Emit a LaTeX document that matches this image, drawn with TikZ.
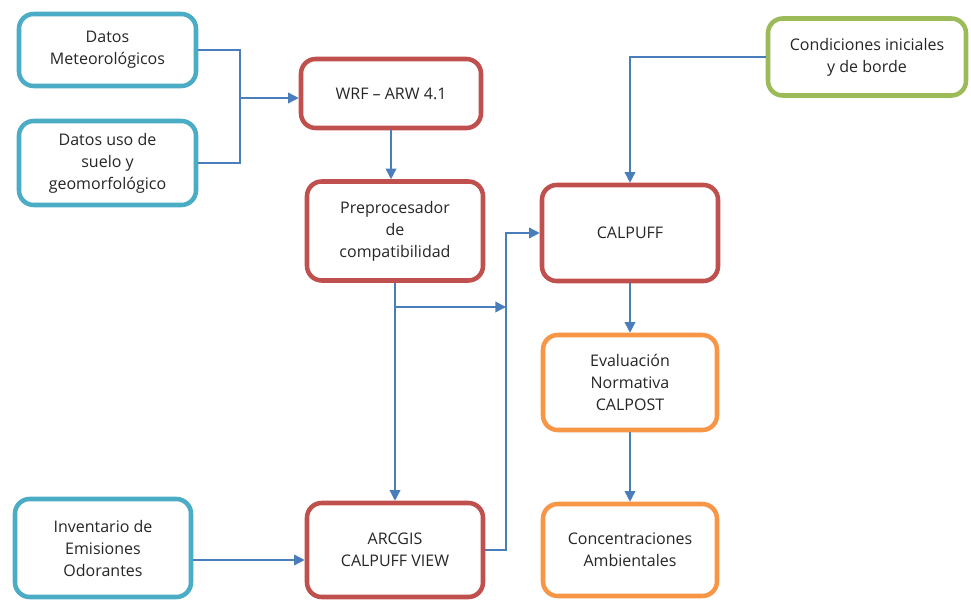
\documentclass[tikz,border=0pt]{standalone}
\usepackage{fontspec}
\setmainfont{Open Sans}
\usetikzlibrary{arrows.meta}
\definecolor{aquab}{HTML}{4BACC6}
\definecolor{redb}{HTML}{C0504D}
\definecolor{greenb}{HTML}{9BBB59}
\definecolor{orangeb}{HTML}{F79646}
\definecolor{arrowc}{HTML}{4A7EBB}
\tikzset{
  box/.style={draw, line width=3.4pt, rounded corners=11pt, fill=white, align=center,
    font=\fontsize{12}{16.5}\selectfont, text=black!85, inner sep=2pt},
  aqua/.style={box, draw=aquab},
  redbox/.style={box, draw=redb},
  greenbox/.style={box, draw=greenb},
  orangebox/.style={box, draw=orangeb},
  conn/.style={draw=arrowc, line width=1.1pt},
  arr/.style={conn, -{Triangle[length=8pt,width=8pt]}},
}
\begin{document}
\begin{tikzpicture}[x=0.75pt,y=-0.75pt]
\useasboundingbox (0,0) rectangle (971,602);
% left inputs
\node[aqua, minimum width=177*0.75pt, minimum height=72*0.75pt] (met) at (107.5,50) {Datos\\Meteorológicos};
\node[aqua, minimum width=177*0.75pt, minimum height=84*0.75pt] (suelo) at (107.5,163) {Datos uso de\\suelo y\\geomorfológico};
\node[aqua, minimum width=176*0.75pt, minimum height=98*0.75pt] (inv) at (103,548) {Inventario de\\Emisiones\\Odorantes};
% red column
\node[redbox, minimum width=180*0.75pt, minimum height=69*0.75pt] (wrf) at (391,93.5) {WRF -- ARW 4.1};
\node[redbox, minimum width=176*0.75pt, minimum height=99*0.75pt] (prep) at (395,231) {Preprocesador\\de\\compatibilidad};
\node[redbox, minimum width=176*0.75pt, minimum height=94*0.75pt] (arc) at (395,550) {ARCGIS\\CALPUFF VIEW};
% right column
\node[redbox, minimum width=176*0.75pt, minimum height=96*0.75pt] (calp) at (630,233) {CALPUFF};
\node[greenbox, minimum width=198*0.75pt, minimum height=77*0.75pt] (cond) at (867,57) {Condiciones iniciales\\y de borde};
\node[orangebox, minimum width=174*0.75pt, minimum height=95*0.75pt] (eval) at (630,382.5) {Evaluación\\Normativa\\CALPOST};
\node[orangebox, minimum width=174*0.75pt, minimum height=92*0.75pt] (conc) at (630,550) {Concentraciones\\Ambientales};
% junctions
\coordinate (j1) at (240,98);
\coordinate (j2) at (395,307);
\coordinate (j3) at (506,307);
\coordinate (j5) at (506,233);
\coordinate (j6) at (193,560);
% connectors
\draw[conn] (met.east) -| (j1) |- (suelo.east);
\draw[arr] (j1) -- (j1 -| wrf.west);
\draw[arr] (wrf.south) -- (wrf.south |- prep.north);
\draw[arr] (prep.south) -- (arc.north);
\draw[arr] (j2) -- (j3);
\draw[arr] (arc.east) -| (j5) -- (calp.west);
\draw[arr] (cond.west) -| (calp.north);
\draw[arr] (calp.south) -- (eval.north);
\draw[arr] (eval.south) -- (conc.north);
\draw[arr] (j6 -| inv.east) -- (j6 -| arc.west);
\end{tikzpicture}
\end{document}
